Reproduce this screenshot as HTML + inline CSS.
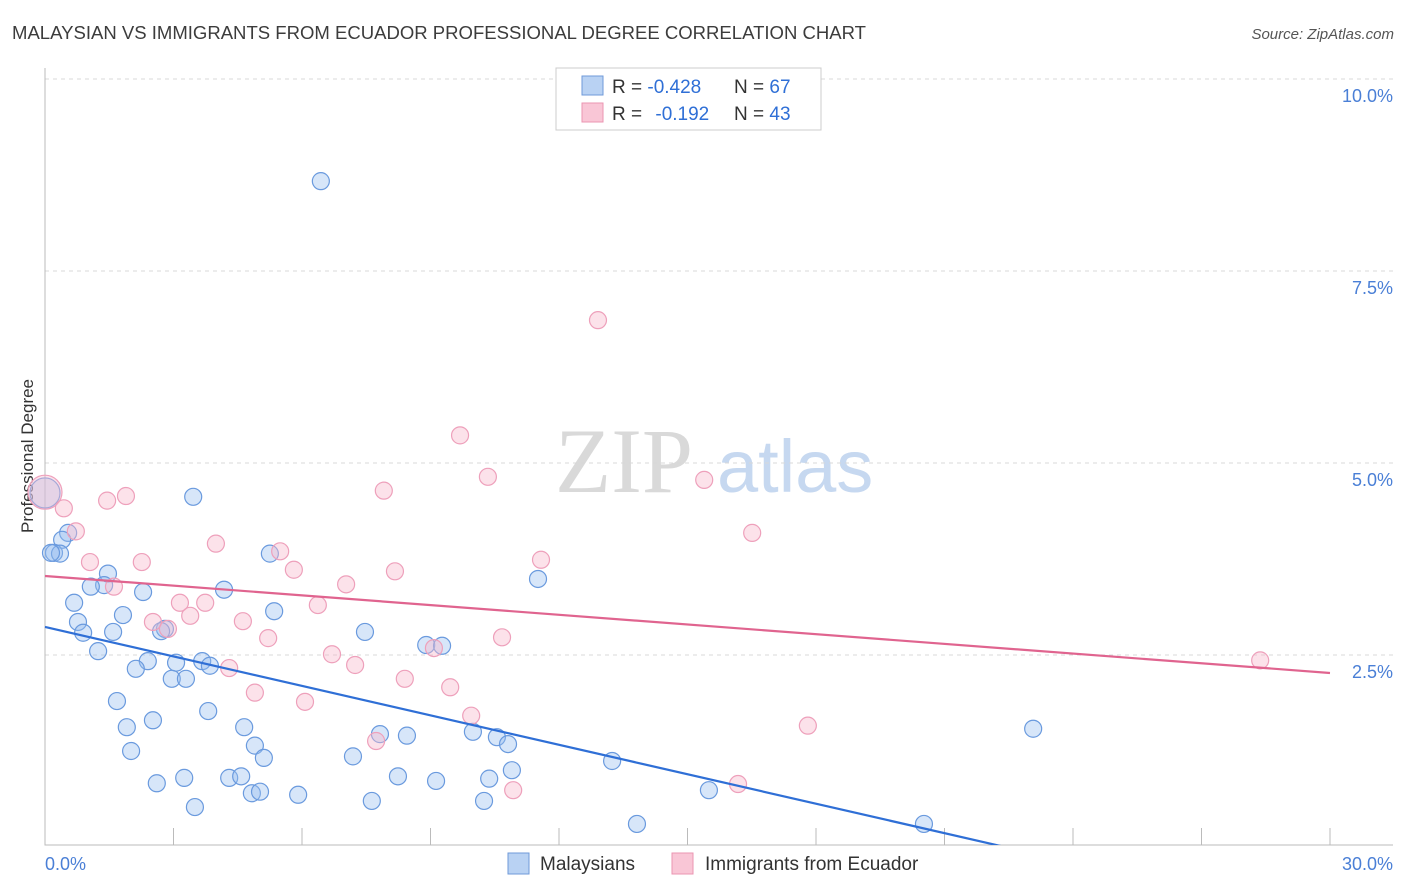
<!DOCTYPE html>
<html><head><meta charset="utf-8"><style>
body{margin:0;background:#fff;font-family:"Liberation Sans",sans-serif;}
svg{display:block}
</style></head><body>
<svg id="chart" width="1406" height="892" xmlns="http://www.w3.org/2000/svg">
<defs><clipPath id="pc"><rect x="0" y="60" width="1406" height="785"/></clipPath></defs>
<text x="12" y="39" font-size="18" fill="#3c3c3c" textLength="854" lengthAdjust="spacingAndGlyphs">MALAYSIAN VS IMMIGRANTS FROM ECUADOR PROFESSIONAL DEGREE CORRELATION CHART</text>
<text x="1394" y="39" font-size="15" fill="#555" font-style="italic" text-anchor="end">Source: ZipAtlas.com</text>
<text transform="translate(33,456) rotate(-90)" font-size="17" fill="#333" text-anchor="middle">Professional Degree</text>
<g>
<text x="555" y="492" font-size="92" fill="#d9d9d9" font-family="Liberation Serif, serif">ZIP</text>
<text x="717" y="492" font-size="74" fill="#c6d8f0">atlas</text>
</g>
<g id="grid"></g>
<g id="axes"></g>
<g id="pts"></g>
<g id="lines" clip-path="url(#pc)"></g>
<g>
<rect x="556" y="68" width="265" height="62" fill="#fff" stroke="#ccc"/>
<rect x="582" y="76" width="21" height="19" fill="#b9d2f3" stroke="#6f9ad8"/>
<rect x="582" y="103" width="21" height="19" fill="#f9c6d6" stroke="#eb95b2"/>
<text x="612" y="93" font-size="19" fill="#333">R = <tspan fill="#2f6fd6">-0.428</tspan><tspan x="734">N = </tspan><tspan fill="#2f6fd6">67</tspan></text>
<text x="612" y="120" font-size="19" fill="#333">R = <tspan fill="#2f6fd6" dx="8">-0.192</tspan><tspan x="734">N = </tspan><tspan fill="#2f6fd6">43</tspan></text>
</g>
<g>
<rect x="508" y="853" width="21" height="21" fill="#b9d2f3" stroke="#6f9ad8"/>
<text x="540" y="870" font-size="19" fill="#333">Malaysians</text>
<rect x="672" y="853" width="21" height="21" fill="#f9c6d6" stroke="#eb95b2"/>
<text x="705" y="870" font-size="19" fill="#333">Immigrants from Ecuador</text>
</g>
</svg>
<script>
const blueX=[6.44,3.46,0.54,0.40,0.21,0.35,1.47,5.25,1.38,1.07,2.29,4.18,0.68,5.35,1.82,0.77,1.59,0.89,2.80,1.24,7.47,8.90,9.27,2.40,3.06,2.12,3.67,3.85,2.96,3.29,1.68,3.81,2.52,1.91,4.65,9.99,7.82,8.45,10.55,10.81,4.90,2.01,7.19,5.11,13.24,11.51,23.07,10.90,2.61,3.25,4.30,4.58,8.24,9.13,10.37,4.83,5.02,5.91,7.63,10.25,15.50,3.50,13.82,20.52,0.14,2.71,0.0];
const blueY=[8.67,4.56,4.09,4.00,3.83,3.82,3.56,3.82,3.41,3.39,3.32,3.35,3.18,3.07,3.02,2.93,2.80,2.79,2.84,2.55,2.80,2.63,2.62,2.42,2.40,2.32,2.42,2.36,2.19,2.19,1.90,1.77,1.65,1.56,1.56,1.50,1.47,1.45,1.43,1.34,1.32,1.25,1.18,1.16,1.12,3.49,1.54,1.00,0.83,0.90,0.90,0.92,0.92,0.86,0.89,0.70,0.72,0.68,0.60,0.60,0.74,0.52,0.30,0.30,3.83,2.81,4.61];
const pinkX=[0,0.44,0.72,1.45,1.89,1.05,2.26,1.61,3.99,5.49,5.81,7.91,9.69,10.34,12.91,15.39,16.51,11.58,8.17,7.03,6.37,3.15,3.74,3.39,2.52,2.87,4.62,5.21,10.67,9.08,6.70,7.24,4.30,8.40,9.46,4.90,6.07,9.95,7.73,17.81,16.18,10.93,28.37];
const pinkY=[4.62,4.41,4.11,4.51,4.57,3.71,3.71,3.39,3.95,3.85,3.61,4.64,5.36,4.82,6.86,4.78,4.09,3.74,3.59,3.42,3.15,3.18,3.18,3.01,2.93,2.84,2.94,2.72,2.73,2.59,2.51,2.37,2.33,2.19,2.08,2.01,1.89,1.71,1.38,1.58,0.82,0.74,2.43];
const yTicks=[2.5,5.0,7.5,10.0];
const yTickLabels=["2.5%","5.0%","7.5%","10.0%"];
const blueTrend=[0,2.865,22.41,0];
const pinkTrend=[0,3.529,30,2.266];
const NS="http://www.w3.org/2000/svg";
const X=v=>45+v/30*1285, Y=v=>847-v/10*768;
function mk(t,a,p){const e=document.createElementNS(NS,t);for(const k in a)e.setAttribute(k,a[k]);p.appendChild(e);return e;}
const grid=document.getElementById('grid'),axes=document.getElementById('axes'),pts=document.getElementById('pts'),lines=document.getElementById('lines');
yTicks.forEach((v,i)=>{
 const l=mk('line',{x1:45,x2:1393,y1:Y(v),y2:Y(v),stroke:'#d8d8d8','stroke-dasharray':'4,4'},grid);
 
 
 const t=mk('text',{x:1393,y:Y(v)+23,'font-size':18,fill:'#4a7fd6','text-anchor':'end'},axes);
 t.textContent=yTickLabels[i];
 
 
});
const ax=mk('path',{d:'M45,68V845H1393',fill:'none',stroke:'#bbb'},axes);


for(let k=1;k<=10;k++){const px=45+k*128.5;const t=mk('line',{x1:px,x2:px,y1:828,y2:845,stroke:'#bbb'},axes);
 
 }
const x0=mk('text',{x:45,y:870,'font-size':18,fill:'#4a7fd6'},axes);x0.textContent='0.0%';


const x1=mk('text',{x:1393,y:870,'font-size':18,fill:'#4a7fd6','text-anchor':'end'},axes);x1.textContent='30.0%';


function dots(xs,ys,fill,stroke,name,bigR){xs.forEach((x,i)=>{const big=(x===0);
 const c=mk('circle',{cx:X(x),cy:Y(ys[i]),r:big?bigR:8.5,fill:fill,stroke:stroke,'stroke-width':1.2},pts);
 
 });}
dots(blueX,blueY,'rgba(150,190,240,0.38)','#6a9ade','malaysian-point',15);
dots(pinkX,pinkY,'rgba(248,185,205,0.42)','#eea0bb','ecuador-point',17);
const bl=mk('line',{x1:X(blueTrend[0]),y1:Y(blueTrend[1]),x2:X(blueTrend[2]),y2:Y(blueTrend[3]),stroke:'#2f6fd6','stroke-width':2.2},lines);


const pl=mk('line',{x1:X(pinkTrend[0]),y1:Y(pinkTrend[1]),x2:X(pinkTrend[2]),y2:Y(pinkTrend[3]),stroke:'#e0648f','stroke-width':2.2},lines);


</script>
</body></html>
